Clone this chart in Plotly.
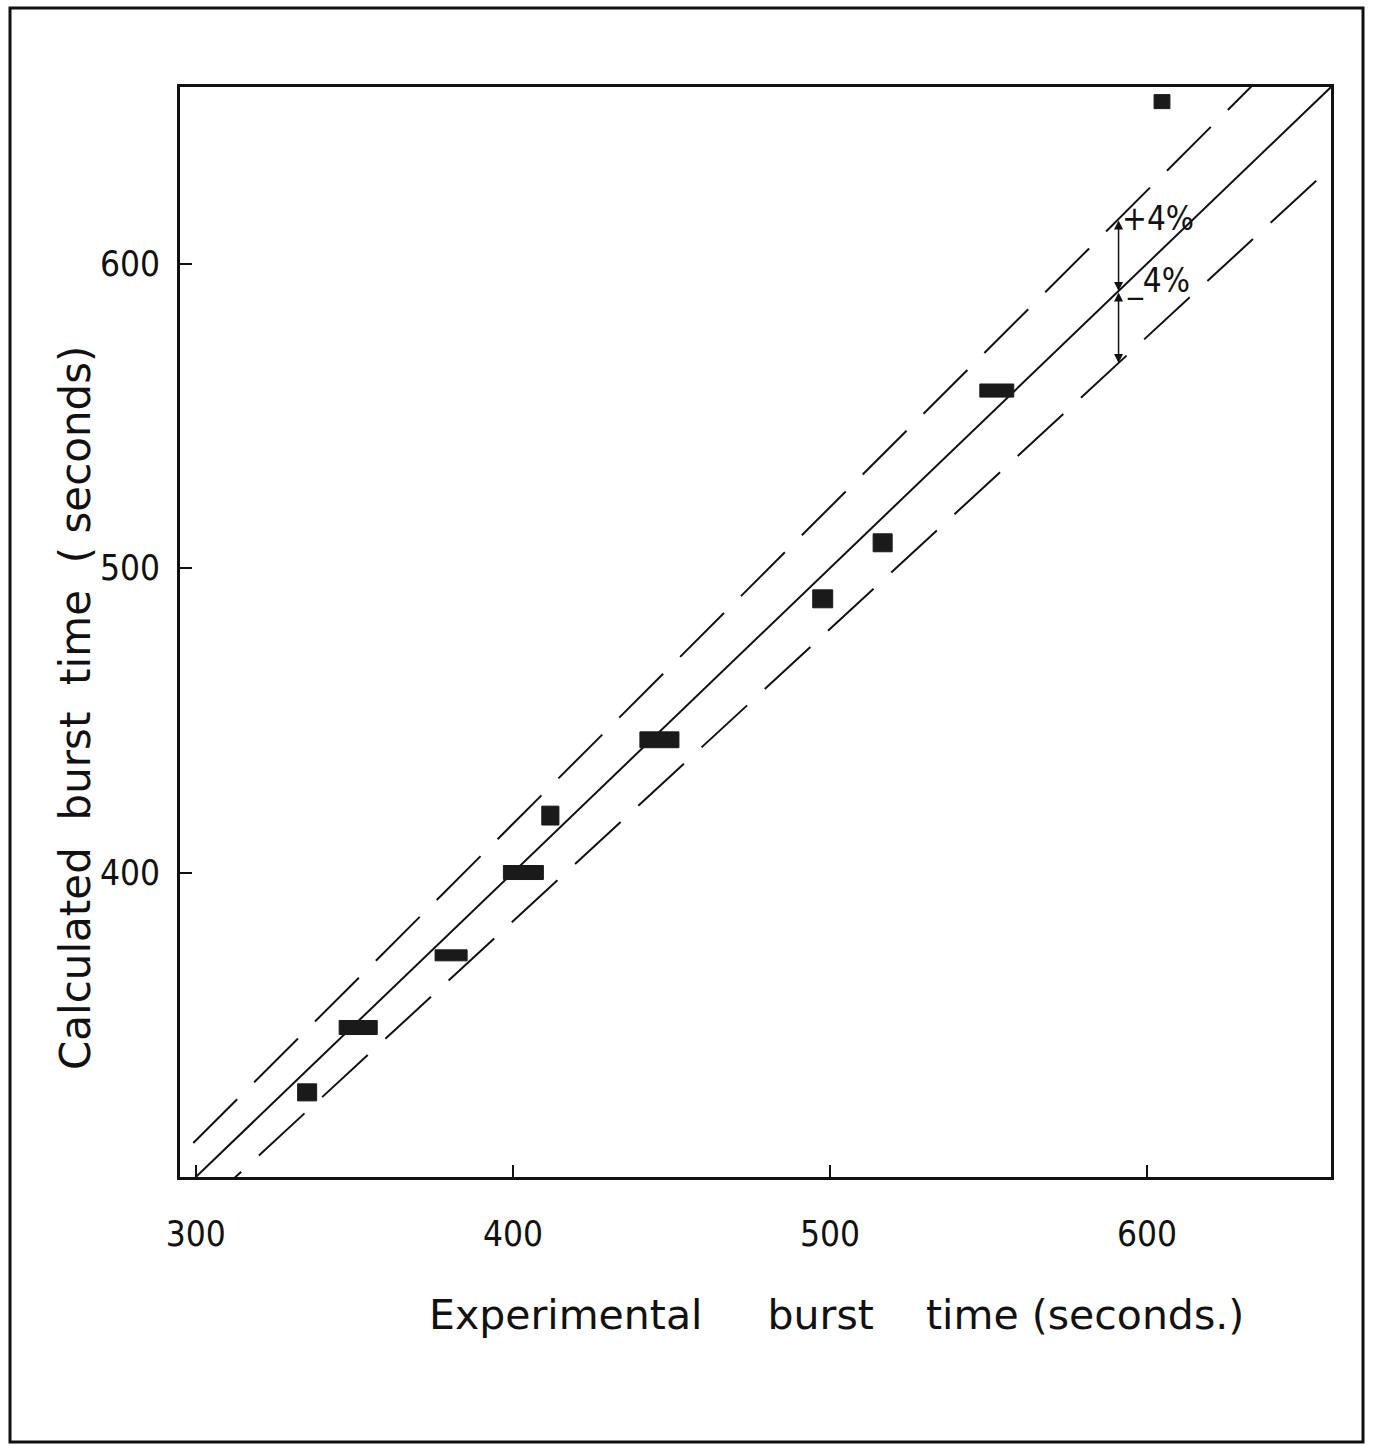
import plotly.graph_objects as go

# Data (seconds)
x_exp = [335.1, 351.2, 380.5, 403.3, 411.8, 446.2, 497.7, 516.6, 552.6, 604.7]
y_calc = [327.8, 349.1, 372.8, 400.0, 418.7, 443.6, 489.9, 508.3, 558.3, 653.2]
x_spread = [6.0, 12.0, 10.1, 12.6, 5.4, 12.3, 6.3, 6.0, 10.7, 5.0]
y_spread = [5.6, 4.6, 3.6, 4.6, 6.2, 5.2, 5.9, 5.9, 4.3, 4.6]

x_ticks = [300, 400, 500, 600]
y_ticks = [400, 500, 600]
tolerance = 0.04
line_span = [280, 680]
arrow_x = 591

FONT = "DejaVu Sans Condensed, DejaVu Sans, sans-serif"
TFONT = "DejaVu Sans ExtraLight, DejaVu Sans, sans-serif"
INK = "#111111"
NB = "\u00a0"

fig = go.Figure()

# y = x reference line
fig.add_trace(go.Scatter(x=line_span, y=line_span, mode="lines",
                         line=dict(color=INK, width=2), showlegend=False, hoverinfo="skip"))
# +/- 4 % lines
for f in (1 + tolerance, 1 - tolerance):
    fig.add_trace(go.Scatter(x=line_span, y=[v * f for v in line_span], mode="lines",
                             line=dict(color=INK, width=2, dash="62px,24px"),
                             showlegend=False, hoverinfo="skip"))

# data points as filled rectangles
shapes = []
for xc, yc, wx, wy in zip(x_exp, y_calc, x_spread, y_spread):
    shapes.append(dict(type="rect", xref="x", yref="y",
                       x0=xc - wx / 2, x1=xc + wx / 2, y0=yc - wy / 2, y1=yc + wy / 2,
                       fillcolor="#1a1a1a", line=dict(color="#1a1a1a", width=1)))

# outer page frame (paper coords)
L, R, T, B = 180, 42, 87, 268
W, H = 1373, 1445
pw, ph = W - L - R, H - T - B
def px(xp):
    return (xp - L) / pw
def py(yp):
    return (H - B - yp) / ph
shapes.append(dict(type="rect", xref="paper", yref="paper",
                   x0=px(10), x1=px(1363), y0=py(1442), y1=py(8),
                   line=dict(color=INK, width=3), fillcolor="rgba(0,0,0,0)", layer="below"))

fig.update_layout(shapes=shapes)

# tolerance arrows
fig.add_annotation(x=arrow_x, y=arrow_x, ax=arrow_x, ay=arrow_x * (1 + tolerance),
                   xref="x", yref="y", axref="x", ayref="y", text="", showarrow=True,
                   arrowhead=2, arrowside="end+start", arrowsize=1.2, arrowwidth=1.5,
                   arrowcolor=INK)
fig.add_annotation(x=arrow_x, y=arrow_x * (1 - tolerance), ax=arrow_x, ay=arrow_x,
                   xref="x", yref="y", axref="x", ayref="y", text="", showarrow=True,
                   arrowhead=2, arrowside="end+start", arrowsize=1.2, arrowwidth=1.5,
                   arrowcolor=INK)
fig.add_annotation(x=603.4, y=614.8, xref="x", yref="y", text="+4%", showarrow=False,
                   font=dict(family=FONT, size=33, color=INK))
fig.add_annotation(x=603.7, y=594.4, xref="x", yref="y", text="_4%", showarrow=False,
                   font=dict(family=FONT, size=33, color=INK))

# axis titles (placed as annotations to match the original's offsets)
x_title = "Experimental" + NB * 5 + "burst" + NB * 4 + "time" + NB + "(seconds.)"
y_title = "Calculated" + NB * 2 + "burst" + NB * 2 + "time" + NB * 2 + "(" + NB + "seconds)"
fig.add_annotation(x=px(836), y=py(1315), xref="paper", yref="paper", text=x_title,
                   showarrow=False, xanchor="center", yanchor="middle",
                   font=dict(family=TFONT, size=41, color=INK))
fig.add_annotation(x=px(75), y=py(708), xref="paper", yref="paper", text=y_title,
                   showarrow=False, xanchor="center", yanchor="middle", textangle=-90,
                   font=dict(family=TFONT, size=42, color=INK))

axis_common = dict(showline=True, linewidth=3, linecolor=INK, mirror=True,
                   showgrid=False, zeroline=False, ticks="inside", ticklen=12,
                   tickwidth=2, tickcolor=INK,
                   tickfont=dict(family=FONT, size=35, color=INK))

fig.update_xaxes(range=[295, 658], tickvals=x_ticks, ticktext=[str(v) for v in x_ticks],
                 ticklabelstandoff=24, **axis_common)
fig.update_yaxes(range=[300, 658], tickvals=y_ticks, ticktext=[str(v) for v in y_ticks],
                 ticklabelstandoff=10, **axis_common)

fig.update_layout(width=W, height=H, margin=dict(l=L, r=R, t=T, b=B),
                  paper_bgcolor="white", plot_bgcolor="white", showlegend=False)

fig.write_html("out.html")
